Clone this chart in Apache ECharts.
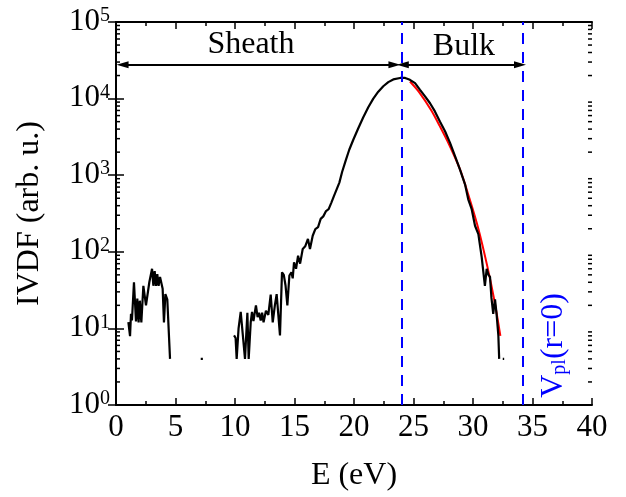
<!DOCTYPE html>
<html><head><meta charset="utf-8">
<script src="https://cdn.jsdelivr.net/npm/echarts@6/dist/echarts.min.js"></script>
<style>html,body{margin:0;padding:0;background:#fff}#c{width:626px;height:497px}</style>
</head><body><div id="c"></div>
<script>
// Measured IVDF (null = gap, no signal)
const energy = [
  1.04,1.18,1.26,1.34,1.51,1.68,1.79,1.9,2.0,2.13,2.3,2.52,2.8,3.03,3.14,3.25,3.36,3.47,3.58,3.7,3.92,4.03,4.15,4.31,4.54,
  4.6,
  7.12,7.3,
  7.4,
  9.92,10.05,10.14,10.3,10.48,10.62,10.84,11.04,11.15,11.32,11.43,11.55,11.76,11.9,12.02,12.16,12.28,12.4,12.6,12.8,13.0,13.17,13.35,13.5,13.78,13.95,14.1,14.25,14.4,14.57,14.74,14.85,14.96,15.13,15.3,15.47,15.69,15.9,16.13,16.3,16.53,16.75,16.98,17.2,17.42,17.65,17.87,18.09,18.32,18.55,18.77,19.0,19.3,19.6,19.94,20.36,20.78,21.2,21.62,22.04,22.46,22.88,23.3,23.87,24.3,24.7,25.13,25.55,25.97,26.39,26.8,27.23,27.65,28.07,28.49,28.9,29.33,29.6,29.75,29.89,30.17,30.3,30.45,30.6,30.73,30.85,31.0,31.15,31.3,31.43,31.55,31.7,31.85,31.98,32.05,32.13,32.2,
  32.4,
  32.5,32.62
];
const ivdf = [
  12.1,7.9,15.5,12.7,40,12.3,24.5,12,23,12,36,20,40,60,36,56,36,51,36,47,33,12,28,24,4.0,
  null,
  4,4,
  null,
  8.1,7.5,4,10,16.4,16.4,4,16,4,12,16.4,12.5,20,14,16,12.7,16,12,17,15,27.7,12,20,28,8.1,54,50,36,20,49,54,45,73,60,89,70,109,118,147,109,162,198,210,269,290,340,360,436,537,657,800,1100,1550,2150,2900,4100,5700,7700,10000,12300,14500,16400,17800,18600,18600,17600,15900,13000,10700,8700,6800,5000,3750,2640,1770,1190,760,485,462,360,219,219,170,170,85,90,36,60,50,47,25,15.5,24,15.5,15,8.1,4,
  null,
  4,4
];
// Fit of the bulk part (red)
const fitEnergy = [24.7,25.5,26.5,27.2,28.0,28.9,29.7,30.45,31.2,31.8,32.3];
const fitIvdf   = [16700,12000,7000,4400,2500,1200,500,200,65,23,8];

const markerLinesE = [24.0, 34.2];
const regionNames = ['Sheath', 'Bulk'];
const regionTextPos = [[11.34, 50000], [29.24, 48000]];
const arrowLevel = 27600;
const sheathArrowE = [0.55, 23.4];
const bulkArrowE = [24.1, 33.95];
const vplPos = [36.76, 6.0];
const yTickExponents = [0, 1, 2, 3, 4, 5];
const yMinorTicks = [];
for (let k = 0; k < 5; k++) for (let m = 2; m <= 9; m++) yMinorTicks.push(m * Math.pow(10, k));

const FONT = 'Liberation Serif';
const BLUE = '#0000ff';

const chart = echarts.init(document.getElementById('c'), null, {renderer: 'canvas'});

const lineData = energy.map((e, i) => [e, ivdf[i] == null ? '-' : ivdf[i]]);
const fitData = fitEnergy.map((e, i) => [e, fitIvdf[i]]);

const axisLineStyle = {show: true, lineStyle: {color: '#000', width: 2}};

chart.setOption({
  animation: false,
  backgroundColor: '#fff',
  grid: {left: 116, right: 34, top: 22, bottom: 90, containLabel: false},
  xAxis: [{
    type: 'value', min: 0, max: 40, interval: 5, position: 'bottom',
    axisLine: axisLineStyle,
    axisTick: {show: true, inside: true, length: 7, lineStyle: {color: '#000', width: 1.5}},
    minorTick: {show: true, splitNumber: 2, length: 4, lineStyle: {color: '#000', width: 1.5}},
    splitLine: {show: false},
    axisLabel: {fontFamily: FONT, fontSize: 31, color: '#000', margin: 7},
    name: 'E (eV)', nameLocation: 'middle', nameGap: 55,
    nameTextStyle: {fontFamily: FONT, fontSize: 32, color: '#000'}
  }, {
    type: 'value', min: 0, max: 40, interval: 5, position: 'top',
    axisLine: axisLineStyle,
    axisTick: {show: true, inside: true, length: 7, lineStyle: {color: '#000', width: 1.5}},
    minorTick: {show: true, splitNumber: 2, length: 4, lineStyle: {color: '#000', width: 1.5}},
    splitLine: {show: false},
    axisLabel: {show: false}
  }],
  yAxis: [{
    type: 'log', logBase: 10, min: 1, max: 100000, splitNumber: 5, position: 'left',
    axisLine: axisLineStyle,
    axisTick: {show: true, inside: true, length: 8, lineStyle: {color: '#000', width: 1.5}},
    splitLine: {show: false},
    axisLabel: {
      margin: 6,
      formatter: v => {
        const ex = Math.round(Math.log10(v));
        return yTickExponents.includes(ex) ? '{b|10}{s|' + ex + '}' : '';
      },
      rich: {
        b: {fontFamily: FONT, fontSize: 31, lineHeight: 32, color: '#000', verticalAlign: 'top'},
        s: {fontFamily: FONT, fontSize: 20, lineHeight: 16, color: '#000', verticalAlign: 'top'}
      }
    },
    name: 'IVDF (arb. u.)', nameLocation: 'middle', nameGap: 70,
    nameTextStyle: {fontFamily: FONT, fontSize: 32, color: '#000'}
  }, {
    type: 'log', logBase: 10, min: 1, max: 100000, splitNumber: 5, position: 'right',
    axisLine: axisLineStyle,
    axisTick: {show: true, inside: true, length: 8, lineStyle: {color: '#000', width: 1.5}},
    splitLine: {show: false},
    axisLabel: {show: false}
  }],
  series: [
    {
      type: 'line', name: 'fit', data: fitData, showSymbol: false, smooth: 0.3,
      lineStyle: {color: '#ff0000', width: 2}, z: 2, silent: true
    },
    {
      type: 'line', name: 'IVDF', data: lineData, showSymbol: false, connectNulls: false,
      lineStyle: {color: '#000', width: 2.2}, z: 3, silent: true
    },
    {
      type: 'line', name: 'markers', data: [], silent: true,
      markLine: {
        silent: true, symbol: ['none', 'none'], animation: false,
        label: {show: false},
        lineStyle: {color: BLUE, width: 2, type: [11, 8]},
        data: markerLinesE.map(e => ({xAxis: e}))
      }
    },
    {
      type: 'line', name: 'arrows', data: [], silent: true,
      markLine: {
        silent: true, symbol: ['triangle', 'triangle'], symbolSize: [7, 12], animation: false,
        label: {show: false},
        lineStyle: {color: '#000', width: 1.8, type: 'solid'},
        data: [
          [{coord: [sheathArrowE[0], arrowLevel]}, {coord: [sheathArrowE[1], arrowLevel]}],
          [{coord: [bulkArrowE[0], arrowLevel]}, {coord: [bulkArrowE[1], arrowLevel]}]
        ]
      }
    },
    {
      type: 'scatter', name: 'labels', symbolSize: 0, silent: true, z: 6,
      itemStyle: {opacity: 1},
      data: regionNames.map((n, i) => ({name: n, value: regionTextPos[i]})),
      label: {show: true, position: 'inside', formatter: p => p.name, opacity: 1,
        fontFamily: FONT, fontSize: 32, color: '#000', textBorderWidth: 0}
    },
    {
      type: 'scatter', name: 'vpl', symbolSize: 0, silent: true, z: 6,
      itemStyle: {opacity: 1},
      data: [{name: 'vpl', value: vplPos}],
      label: {show: true, position: 'inside', rotate: 90, opacity: 1, textBorderWidth: 0,
        formatter: '{a|V}{s|pl}{a|(r=0)}',
        rich: {
          a: {fontFamily: FONT, fontSize: 32, lineHeight: 32, color: BLUE, verticalAlign: 'top'},
          s: {fontFamily: FONT, fontSize: 20, lineHeight: 20, color: BLUE, verticalAlign: 'bottom', padding: [21, 0, 0, 0]}
        }}
    },
    {
      type: 'custom', name: 'minorY', coordinateSystem: 'cartesian2d', silent: true, z: 5,
      data: yMinorTicks.map(v => [0, v]),
      renderItem: (params, api) => {
        const p = api.coord([0, api.value(1)]);
        const cs = params.coordSys;
        const st = {stroke: '#000', lineWidth: 1.5};
        return {type: 'group', children: [
          {type: 'line', shape: {x1: cs.x, y1: p[1], x2: cs.x + 4, y2: p[1]}, style: st},
          {type: 'line', shape: {x1: cs.x + cs.width - 4, y1: p[1], x2: cs.x + cs.width, y2: p[1]}, style: st}
        ]};
      }
    }
  ]
});
</script>
</body></html>
